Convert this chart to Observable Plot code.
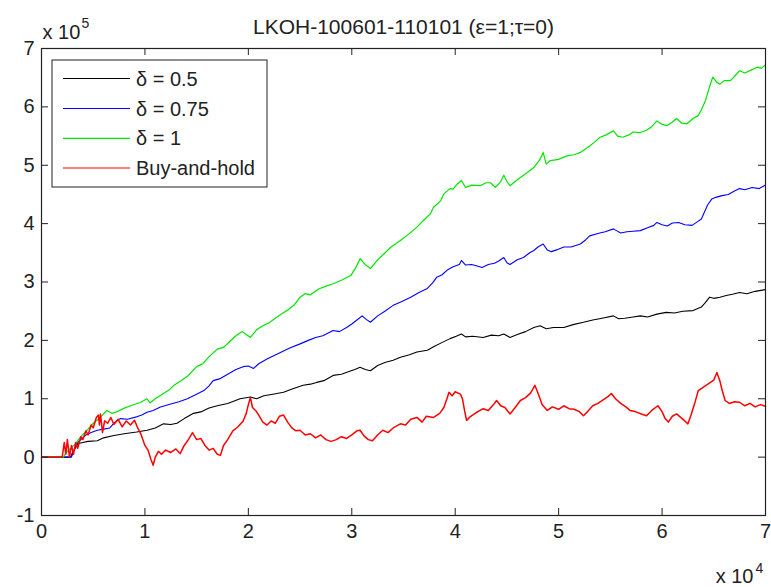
<!DOCTYPE html>
<html>
<head>
<meta charset="utf-8">
<script src="https://cdn.jsdelivr.net/npm/d3@7"></script>
<script src="https://cdn.jsdelivr.net/npm/@observablehq/plot@0.6"></script>
<style>
  html, body { margin: 0; padding: 0; background: #fff; }
  #chart { width: 771px; height: 587px; }
</style>
</head>
<body>
<div id="chart"></div>
<script>
// Cumulative P&L of the threshold strategy vs. buy-and-hold, LKOH ticks 2010-06-01..2011-01-01.
// Points are [step / 1e4, value / 1e5], the same units as the axis tick labels.
const xExponent = 4;
const yExponent = 5;
const xTicks = [0, 1, 2, 3, 4, 5, 6, 7];
const yTicks = [-1, 0, 1, 2, 3, 4, 5, 6, 7];
const titleText = "LKOH-100601-110101 (ε=1;τ=0)";
const seriesNames = ["δ = 0.5", "δ = 0.75", "δ = 1", "Buy-and-hold"];
const seriesColors = ["#000000", "#0000ff", "#00e600", "#ff0000"];

const delta050 = [
  [0,0],[0.28,0],[0.3,0.08],[0.33,0.16],[0.35,0.23],[0.4,0.25],[0.45,0.27],[0.54,0.28],[0.6,0.33],
  [0.7,0.37],[0.8,0.4],[0.92,0.43],[1.02,0.46],[1.1,0.5],[1.18,0.57],[1.25,0.56],[1.31,0.58],
  [1.38,0.66],[1.47,0.75],[1.55,0.78],[1.62,0.84],[1.7,0.88],[1.8,0.92],[1.92,1.0],[2.02,1.03],
  [2.08,1.0],[2.15,1.05],[2.25,1.08],[2.34,1.11],[2.43,1.17],[2.53,1.23],[2.6,1.25],[2.66,1.28],
  [2.73,1.31],[2.82,1.4],[2.9,1.42],[2.98,1.47],[3.03,1.5],[3.08,1.54],[3.13,1.5],[3.18,1.48],
  [3.25,1.57],[3.32,1.62],[3.4,1.66],[3.47,1.71],[3.55,1.75],[3.63,1.8],[3.73,1.83],[3.8,1.9],
  [3.88,1.97],[3.95,2.03],[4.01,2.07],[4.06,2.11],[4.1,2.06],[4.17,2.07],[4.27,2.05],[4.35,2.09],
  [4.42,2.08],[4.47,2.11],[4.53,2.05],[4.6,2.1],[4.68,2.15],[4.76,2.22],[4.82,2.25],[4.88,2.2],
  [4.95,2.22],[5.05,2.22],[5.14,2.27],[5.24,2.31],[5.33,2.35],[5.42,2.38],[5.53,2.42],[5.58,2.37],
  [5.64,2.38],[5.72,2.4],[5.79,2.42],[5.86,2.4],[5.95,2.45],[6.04,2.48],[6.12,2.47],[6.2,2.5],
  [6.3,2.51],[6.38,2.57],[6.42,2.65],[6.46,2.74],[6.5,2.72],[6.56,2.74],[6.62,2.77],[6.68,2.79],
  [6.75,2.82],[6.82,2.8],[6.9,2.84],[7.0,2.87]
];

const delta075 = [
  [0,0],[0.29,0],[0.31,0.1],[0.34,0.23],[0.38,0.3],[0.43,0.38],[0.48,0.42],[0.54,0.46],[0.6,0.48],
  [0.66,0.5],[0.71,0.6],[0.76,0.66],[0.83,0.65],[0.92,0.69],[0.97,0.72],[1.02,0.77],[1.08,0.8],
  [1.15,0.86],[1.25,0.91],[1.33,0.95],[1.41,1.0],[1.48,1.06],[1.57,1.14],[1.62,1.22],[1.66,1.31],
  [1.72,1.34],[1.8,1.42],[1.88,1.5],[1.95,1.55],[2.0,1.56],[2.05,1.52],[2.1,1.6],[2.18,1.68],
  [2.25,1.74],[2.32,1.8],[2.4,1.87],[2.5,1.94],[2.58,2.0],[2.65,2.05],[2.72,2.08],[2.82,2.17],
  [2.88,2.15],[2.95,2.22],[3.0,2.28],[3.05,2.35],[3.1,2.42],[3.14,2.36],[3.18,2.31],[3.25,2.42],
  [3.32,2.5],[3.4,2.6],[3.48,2.66],[3.57,2.74],[3.65,2.82],[3.73,2.89],[3.78,2.98],[3.82,3.08],
  [3.87,3.12],[3.92,3.2],[3.98,3.26],[4.04,3.3],[4.06,3.37],[4.1,3.29],[4.16,3.3],[4.22,3.27],
  [4.26,3.25],[4.32,3.3],[4.38,3.32],[4.42,3.36],[4.47,3.42],[4.5,3.33],[4.53,3.3],[4.6,3.38],
  [4.66,3.42],[4.72,3.5],[4.76,3.54],[4.8,3.6],[4.85,3.65],[4.89,3.55],[4.93,3.52],[4.98,3.55],
  [5.05,3.6],[5.12,3.6],[5.21,3.65],[5.26,3.72],[5.3,3.79],[5.38,3.83],[5.45,3.86],[5.53,3.91],
  [5.56,3.88],[5.6,3.84],[5.66,3.86],[5.72,3.87],[5.79,3.88],[5.86,3.93],[5.92,3.97],[5.95,4.02],
  [6.0,3.98],[6.05,3.96],[6.1,4.01],[6.16,4.02],[6.22,3.98],[6.29,3.97],[6.34,4.03],[6.38,4.08],
  [6.41,4.2],[6.44,4.32],[6.48,4.42],[6.52,4.45],[6.58,4.48],[6.64,4.5],[6.7,4.56],[6.75,4.6],
  [6.8,4.58],[6.87,4.62],[6.94,4.6],[7.0,4.66]
];

const delta100 = [
  [0,0],[0.21,0],[0.24,0.08],[0.28,0.15],[0.33,0.23],[0.38,0.35],[0.44,0.46],[0.5,0.58],[0.57,0.68],
  [0.63,0.8],[0.68,0.75],[0.72,0.77],[0.8,0.84],[0.86,0.88],[0.96,0.94],[1.02,1.0],[1.05,0.93],
  [1.1,1.0],[1.18,1.09],[1.24,1.16],[1.28,1.23],[1.35,1.31],[1.42,1.4],[1.5,1.55],[1.56,1.6],
  [1.62,1.72],[1.7,1.85],[1.76,1.88],[1.82,1.98],[1.88,2.08],[1.94,2.15],[1.98,2.1],[2.02,2.05],
  [2.08,2.18],[2.14,2.25],[2.2,2.3],[2.26,2.38],[2.32,2.45],[2.38,2.52],[2.44,2.6],[2.5,2.74],
  [2.55,2.8],[2.6,2.78],[2.68,2.88],[2.75,2.93],[2.82,2.97],[2.9,3.03],[2.99,3.11],[3.04,3.25],
  [3.08,3.4],[3.13,3.3],[3.18,3.23],[3.25,3.38],[3.31,3.48],[3.38,3.6],[3.47,3.71],[3.55,3.82],
  [3.63,3.94],[3.69,4.05],[3.76,4.17],[3.79,4.28],[3.86,4.39],[3.89,4.51],[3.95,4.6],[3.98,4.59],
  [4.02,4.68],[4.06,4.74],[4.1,4.62],[4.16,4.66],[4.24,4.65],[4.3,4.7],[4.34,4.7],[4.39,4.62],
  [4.44,4.72],[4.47,4.83],[4.5,4.72],[4.53,4.65],[4.58,4.72],[4.63,4.79],[4.7,4.88],[4.76,4.96],
  [4.82,5.1],[4.85,5.22],[4.88,5.02],[4.92,5.08],[5.0,5.1],[5.08,5.16],[5.15,5.18],[5.21,5.22],
  [5.3,5.33],[5.35,5.4],[5.4,5.48],[5.46,5.52],[5.53,5.59],[5.57,5.5],[5.62,5.48],[5.68,5.52],
  [5.72,5.57],[5.79,5.56],[5.85,5.6],[5.9,5.66],[5.95,5.76],[6.0,5.7],[6.05,5.68],[6.1,5.74],
  [6.14,5.8],[6.19,5.72],[6.24,5.71],[6.3,5.8],[6.35,5.85],[6.38,5.95],[6.42,6.11],[6.46,6.35],
  [6.49,6.51],[6.53,6.42],[6.56,6.39],[6.6,6.45],[6.66,6.45],[6.7,6.52],[6.75,6.62],[6.8,6.58],
  [6.86,6.63],[6.92,6.68],[6.96,6.66],[7.0,6.72]
];

const buyAndHold = [
  [0,0],[0.2,0],[0.22,0.25],[0.235,0.05],[0.25,0.3],[0.27,0.0],[0.29,0.2],[0.31,0.05],[0.33,0.25],
  [0.35,0.15],[0.38,0.35],[0.4,0.3],[0.43,0.45],[0.45,0.38],[0.48,0.55],[0.5,0.5],[0.53,0.68],
  [0.55,0.72],[0.56,0.55],[0.57,0.74],[0.59,0.42],[0.61,0.62],[0.64,0.58],[0.67,0.68],[0.7,0.56],
  [0.74,0.65],[0.78,0.52],[0.82,0.62],[0.86,0.55],[0.9,0.63],[0.93,0.5],[0.96,0.4],[1.0,0.2],
  [1.03,0.12],[1.06,-0.05],[1.08,-0.14],[1.1,0.0],[1.13,0.1],[1.16,0.05],[1.2,0.12],[1.25,0.08],
  [1.3,0.14],[1.34,0.06],[1.38,0.2],[1.42,0.3],[1.46,0.42],[1.5,0.3],[1.54,0.32],[1.58,0.2],
  [1.62,0.12],[1.66,0.15],[1.7,0.05],[1.73,0.03],[1.76,0.2],[1.8,0.3],[1.85,0.45],[1.9,0.52],
  [1.95,0.62],[1.98,0.75],[2.0,0.9],[2.02,1.02],[2.04,0.85],[2.07,0.8],[2.1,0.72],[2.14,0.6],
  [2.18,0.55],[2.22,0.62],[2.26,0.58],[2.3,0.7],[2.34,0.72],[2.38,0.6],[2.42,0.5],[2.46,0.45],
  [2.5,0.46],[2.55,0.38],[2.6,0.4],[2.65,0.33],[2.7,0.38],[2.75,0.3],[2.8,0.27],[2.85,0.3],
  [2.9,0.35],[2.95,0.32],[3.0,0.38],[3.05,0.45],[3.08,0.46],[3.12,0.36],[3.16,0.3],[3.2,0.28],
  [3.25,0.38],[3.3,0.46],[3.35,0.42],[3.4,0.5],[3.47,0.57],[3.52,0.55],[3.57,0.65],[3.63,0.68],
  [3.68,0.6],[3.72,0.7],[3.79,0.68],[3.85,0.75],[3.89,0.85],[3.92,1.0],[3.94,1.11],[3.97,1.05],
  [4.0,1.12],[4.05,1.08],[4.07,1.0],[4.09,0.8],[4.11,0.63],[4.15,0.7],[4.2,0.76],[4.27,0.83],
  [4.32,0.8],[4.37,0.9],[4.4,0.97],[4.44,0.88],[4.48,0.85],[4.53,0.74],[4.58,0.85],[4.63,0.97],
  [4.68,1.02],[4.73,1.1],[4.77,1.23],[4.8,1.1],[4.84,0.9],[4.89,0.8],[4.94,0.86],[5.0,0.82],
  [5.05,0.88],[5.1,0.83],[5.15,0.82],[5.2,0.78],[5.24,0.71],[5.28,0.78],[5.33,0.88],[5.38,0.92],
  [5.43,0.98],[5.48,1.04],[5.51,1.09],[5.55,1.0],[5.6,0.92],[5.65,0.86],[5.69,0.8],[5.74,0.78],
  [5.8,0.74],[5.85,0.71],[5.9,0.8],[5.96,0.88],[6.0,0.78],[6.03,0.66],[6.06,0.6],[6.1,0.7],
  [6.14,0.74],[6.18,0.68],[6.22,0.62],[6.25,0.57],[6.28,0.72],[6.32,0.95],[6.35,1.14],[6.4,1.2],
  [6.45,1.26],[6.5,1.32],[6.53,1.45],[6.56,1.3],[6.58,1.15],[6.61,0.97],[6.65,0.92],[6.7,0.95],
  [6.75,0.94],[6.8,0.88],[6.85,0.92],[6.9,0.86],[6.95,0.9],[7.0,0.87]
];

const seriesPoints = [delta050, delta075, delta100, buyAndHold];
const seriesWidths = [1.1, 1.1, 1.2, 1.5];

// Layout (pixels)
const W = 771, H = 587;
const M = {top: 48, right: 6, bottom: 72, left: 41};
const innerW = W - M.left - M.right;
const innerH = H - M.top - M.bottom;
const tickLen = 7;
const ink = "#222";
const font = "'Liberation Sans', Arial, Helvetica, sans-serif";

const lines = seriesPoints.map((pts, i) =>
  Plot.line(pts, {x: d => d[0], y: d => d[1], stroke: seriesColors[i], strokeWidth: seriesWidths[i]})
);

const chart = Plot.plot({
  width: W,
  height: H,
  marginTop: M.top,
  marginRight: M.right,
  marginBottom: M.bottom,
  marginLeft: M.left,
  x: {domain: [xTicks[0], xTicks[xTicks.length - 1]]},
  y: {domain: [yTicks[0], yTicks[yTicks.length - 1]]},
  style: {fontFamily: font, fontSize: "20px", color: ink, background: "#fff", overflow: "visible"},
  marks: [
    ...lines,
    // inward ticks on all four sides of the box
    Plot.tickX(xTicks, {x: d => d, stroke: ink, insetTop: innerH - tickLen}),
    Plot.tickX(xTicks, {x: d => d, stroke: ink, insetBottom: innerH - tickLen}),
    Plot.tickY(yTicks, {y: d => d, stroke: ink, insetRight: innerW - tickLen}),
    Plot.tickY(yTicks, {y: d => d, stroke: ink, insetLeft: innerW - tickLen}),
    Plot.frame({stroke: ink, strokeWidth: 1.2}),
    Plot.axisX(xTicks, {tickSize: 0, tickPadding: 8, tickFormat: d => String(d), label: null, fontSize: 20, fill: ink}),
    Plot.axisY(yTicks, {tickSize: 0, tickPadding: 7, tickFormat: d => String(d), label: null, fontSize: 20, fill: ink}),
    // title
    Plot.text([titleText], {text: d => d, frameAnchor: "top", lineAnchor: "bottom", dy: -15, fontSize: 21, fill: ink}),
    // axis exponents
    Plot.text(["x 10"], {text: d => d, frameAnchor: "top-left", textAnchor: "start", lineAnchor: "bottom", dx: 1, dy: -10, fontSize: 20, fill: ink}),
    Plot.text([String(yExponent)], {text: d => d, frameAnchor: "top-left", textAnchor: "start", lineAnchor: "bottom", dx: 40, dy: -21, fontSize: 14, fill: ink}),
    Plot.text(["x 10"], {text: d => d, frameAnchor: "bottom-right", textAnchor: "end", lineAnchor: "bottom", dx: -12, dy: 67, fontSize: 20, fill: ink}),
    Plot.text([String(xExponent)], {text: d => d, frameAnchor: "bottom-right", textAnchor: "start", lineAnchor: "bottom", dx: -10, dy: 57, fontSize: 14, fill: ink})
  ]
});

// Legend box in the upper-left corner of the axes
const svg = d3.select(chart);
const legend = svg.append("g")
  .attr("font-family", font)
  .attr("font-size", 20)
  .attr("text-anchor", "start");
legend.append("rect")
  .attr("x", 52).attr("y", 60).attr("width", 215).attr("height", 127)
  .attr("fill", "#fff").attr("stroke", ink).attr("stroke-width", 1);
const rowY = [78.5, 108.5, 138.3, 168];
seriesNames.forEach((name, i) => {
  legend.append("line")
    .attr("x1", 63).attr("x2", 130).attr("y1", rowY[i]).attr("y2", rowY[i])
    .attr("stroke", seriesColors[i]).attr("stroke-width", 1.2);
  legend.append("text")
    .attr("x", 136).attr("y", rowY[i] + 7)
    .attr("text-anchor", "start")
    .attr("fill", ink).text(name);
});

document.getElementById("chart").appendChild(chart);
</script>
</body>
</html>
